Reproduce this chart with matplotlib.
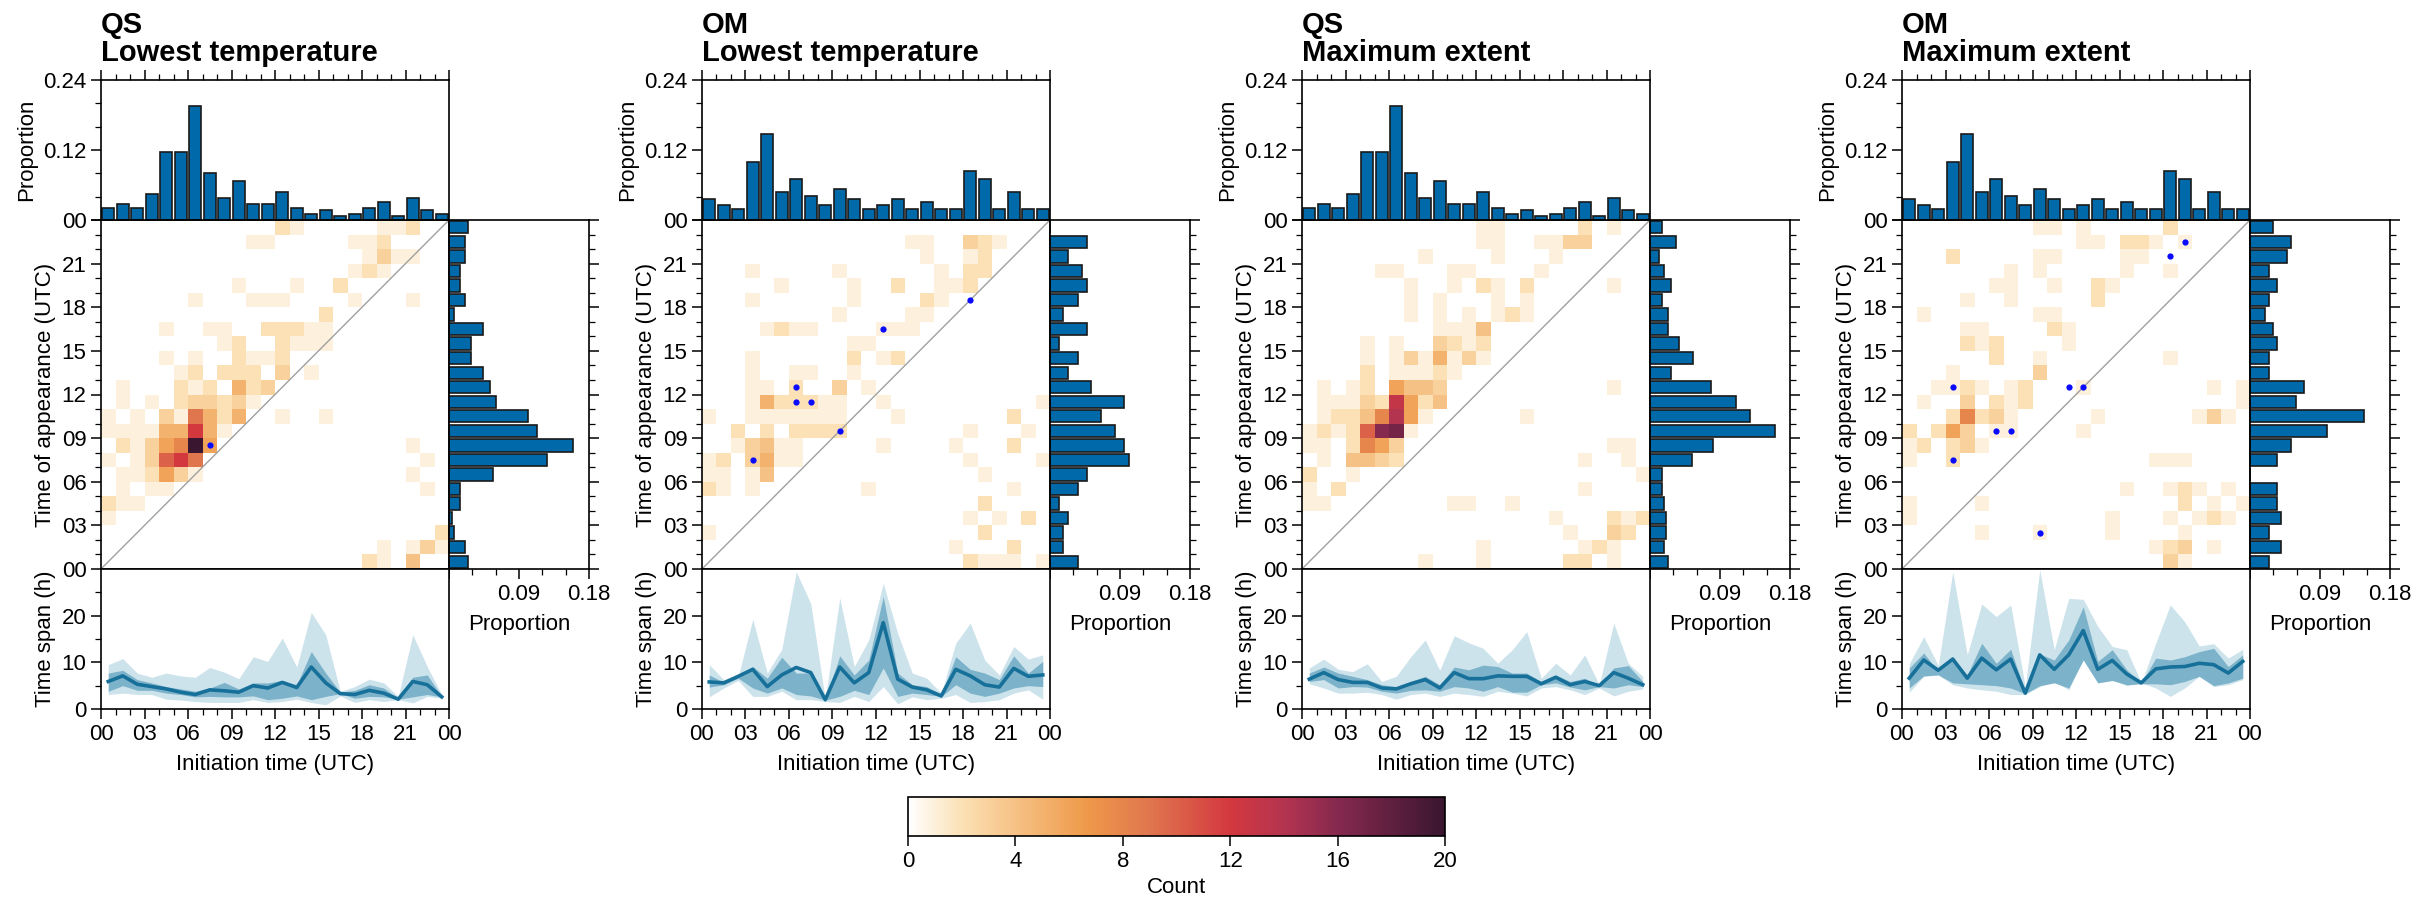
import numpy as np
import matplotlib.pyplot as plt
from matplotlib.colors import LinearSegmentedColormap
from matplotlib.ticker import MultipleLocator, FixedLocator

plt.rcParams['font.family'] = ['Liberation Sans', 'DejaVu Sans']
plt.rcParams['font.size'] = 16
plt.rcParams['axes.linewidth'] = 1.2
for ax_name in ['xtick', 'ytick']:
    plt.rcParams[ax_name + '.direction'] = 'out'
    plt.rcParams[ax_name + '.major.size'] = 7
    plt.rcParams[ax_name + '.minor.size'] = 4
    plt.rcParams[ax_name + '.major.width'] = 1.1
    plt.rcParams[ax_name + '.minor.width'] = 0.9
    plt.rcParams[ax_name + '.labelsize'] = 16

# ---------------- data ----------------
hours = np.arange(24)
hour_tick_labels = ['00', '03', '06', '09', '12', '15', '18', '21', '00']

titles = ['QS\nLowest temperature', 'OM\nLowest temperature',
          'QS\nMaximum extent', 'OM\nMaximum extent']

# proportion of initiation time (top histograms)
qs_init_prop = [0.020, 0.028, 0.020, 0.044, 0.116, 0.116, 0.196, 0.081, 0.037, 0.067,
                0.028, 0.028, 0.048, 0.020, 0.011, 0.018, 0.007, 0.011, 0.020, 0.031,
                0.007, 0.037, 0.018, 0.011]
om_init_prop = [0.036, 0.025, 0.019, 0.100, 0.147, 0.048, 0.071, 0.041, 0.025, 0.053,
                0.036, 0.019, 0.025, 0.036, 0.019, 0.031, 0.019, 0.019, 0.084, 0.071,
                0.019, 0.048, 0.019, 0.019]

# proportion of appearance time (right histograms), hour 00 -> 23
qs_low_appear = [0.025, 0.021, 0.007, 0.004, 0.014, 0.014, 0.057, 0.126, 0.160, 0.113,
                 0.101, 0.060, 0.053, 0.044, 0.028, 0.028, 0.044, 0.007, 0.021, 0.014,
                 0.014, 0.021, 0.021, 0.025]
om_low_appear = [0.036, 0.017, 0.017, 0.023, 0.011, 0.036, 0.047, 0.101, 0.095, 0.083,
                 0.065, 0.095, 0.053, 0.023, 0.036, 0.011, 0.047, 0.017, 0.036, 0.047,
                 0.041, 0.023, 0.047, 0.0]
qs_ext_appear = [0.023, 0.018, 0.020, 0.020, 0.018, 0.015, 0.015, 0.054, 0.081, 0.161,
                 0.128, 0.111, 0.079, 0.027, 0.055, 0.037, 0.023, 0.023, 0.015, 0.027,
                 0.018, 0.011, 0.034, 0.015]
om_ext_appear = [0.024, 0.040, 0.024, 0.040, 0.035, 0.035, 0.0, 0.035, 0.053, 0.099,
                 0.146, 0.059, 0.070, 0.024, 0.024, 0.035, 0.030, 0.019, 0.024, 0.035,
                 0.024, 0.048, 0.053, 0.030]

# joint counts: (initiation hour, appearance hour, count)
qs_low_cells = [
    (12, 23, 2), (13, 23, 1), (19, 23, 1), (20, 23, 1), (21, 23, 2),
    (10, 22, 1), (11, 22, 1), (17, 22, 1), (18, 22, 1), (19, 22, 2),
    (18, 21, 1), (19, 21, 3), (20, 21, 1), (21, 21, 1),
    (17, 20, 1), (18, 20, 2), (19, 20, 1),
    (9, 19, 1), (13, 19, 1), (16, 19, 2),
    (6, 18, 1), (10, 18, 1), (11, 18, 1), (12, 18, 1), (17, 18, 1), (21, 18, 1),
    (15, 17, 2),
    (4, 16, 1), (7, 16, 1), (8, 16, 1), (11, 16, 2), (12, 16, 2), (13, 16, 2), (14, 16, 1), (15, 16, 1),
    (8, 15, 1), (9, 15, 2), (12, 15, 2), (13, 15, 1), (14, 15, 1), (15, 15, 1),
    (4, 14, 1), (6, 14, 1), (9, 14, 2), (10, 14, 1), (11, 14, 1), (12, 14, 2),
    (5, 13, 1), (6, 13, 2), (8, 13, 2), (9, 13, 2), (10, 13, 2), (12, 13, 3), (14, 13, 1),
    (1, 12, 1), (5, 12, 2), (6, 12, 1), (7, 12, 2), (9, 12, 5), (10, 12, 2), (11, 12, 3),
    (1, 11, 1), (3, 11, 1), (5, 11, 2), (6, 11, 3), (7, 11, 3), (8, 11, 2), (9, 11, 3), (10, 11, 1),
    (0, 10, 1), (2, 10, 1), (4, 10, 3), (5, 10, 1), (6, 10, 9), (7, 10, 5), (8, 10, 2), (9, 10, 5),
    (12, 10, 1), (15, 10, 1),
    (0, 9, 1), (1, 9, 1), (2, 9, 1), (3, 9, 1), (4, 9, 5), (5, 9, 5), (6, 9, 12), (7, 9, 5), (8, 9, 1),
    (1, 8, 2), (2, 8, 1), (3, 8, 3), (4, 8, 6), (5, 8, 8), (6, 8, 20), (7, 8, 6), (21, 8, 1),
    (0, 7, 1), (2, 7, 1), (3, 7, 3), (4, 7, 10), (5, 7, 12), (6, 7, 9), (22, 7, 1),
    (1, 6, 1), (2, 6, 1), (3, 6, 2), (4, 6, 6), (5, 6, 3), (6, 6, 1), (21, 6, 1),
    (1, 5, 1), (3, 5, 1), (4, 5, 1), (22, 5, 1),
    (0, 4, 2), (1, 4, 1), (2, 4, 1),
    (0, 3, 1),
    (23, 2, 2),
    (19, 1, 1), (21, 1, 1), (22, 1, 3), (23, 1, 1),
    (18, 0, 2), (19, 0, 1), (21, 0, 4),
]
om_low_cells = [
    (14, 22, 1), (15, 22, 1), (18, 22, 3), (19, 22, 2), (20, 22, 1),
    (15, 21, 1), (18, 21, 1), (19, 21, 2),
    (3, 20, 1), (9, 20, 1), (16, 20, 1), (18, 20, 2), (19, 20, 2),
    (5, 19, 1), (10, 19, 1), (13, 19, 2), (16, 19, 1), (17, 19, 1), (18, 19, 2),
    (3, 18, 1), (10, 18, 1), (15, 18, 2), (16, 18, 1),
    (9, 17, 1), (14, 17, 1), (15, 17, 1),
    (4, 16, 1), (5, 16, 2), (6, 16, 1), (7, 16, 1), (12, 16, 1), (13, 16, 1), (14, 16, 1),
    (10, 15, 1), (11, 15, 1),
    (3, 14, 1), (10, 14, 2), (12, 14, 1), (13, 14, 2),
    (3, 13, 1), (6, 13, 1), (7, 13, 1), (10, 13, 1),
    (3, 12, 1), (4, 12, 1), (6, 12, 2), (9, 12, 3), (11, 12, 1),
    (3, 11, 1), (4, 11, 5), (5, 11, 2), (6, 11, 2), (7, 11, 2), (8, 11, 1), (9, 11, 1), (12, 11, 1), (23, 11, 1),
    (0, 10, 1), (3, 10, 1), (4, 10, 1), (5, 10, 1), (6, 10, 1), (7, 10, 1), (8, 10, 1), (9, 10, 1),
    (13, 10, 1), (21, 10, 2),
    (2, 9, 2), (4, 9, 2), (6, 9, 2), (7, 9, 2), (8, 9, 2), (9, 9, 2), (18, 9, 1), (22, 9, 1),
    (2, 8, 1), (3, 8, 3), (4, 8, 4), (5, 8, 1), (6, 8, 1), (12, 8, 1), (17, 8, 1), (21, 8, 2),
    (0, 7, 1), (1, 7, 2), (3, 7, 3), (4, 7, 5), (5, 7, 1), (6, 7, 1), (18, 7, 1), (23, 7, 1),
    (0, 6, 1), (1, 6, 1), (3, 6, 1), (4, 6, 4), (19, 6, 1),
    (0, 5, 2), (1, 5, 1), (3, 5, 1), (11, 5, 1), (21, 5, 1),
    (19, 4, 2),
    (18, 3, 1), (20, 3, 1), (22, 3, 2),
    (0, 2, 1), (19, 2, 2),
    (17, 1, 1), (21, 1, 2),
    (18, 0, 2), (19, 0, 1), (20, 0, 1), (21, 0, 1), (23, 0, 1),
]
qs_ext_cells = [
    (12, 23, 1), (13, 23, 1), (19, 23, 2), (21, 23, 1),
    (12, 22, 1), (13, 22, 1), (16, 22, 1), (17, 22, 1), (18, 22, 3), (19, 22, 3),
    (8, 21, 1), (13, 21, 1), (17, 21, 1),
    (5, 20, 1), (6, 20, 1), (10, 20, 1), (11, 20, 1), (16, 20, 1),
    (7, 19, 1), (10, 19, 1), (12, 19, 2), (13, 19, 1), (15, 19, 2), (21, 19, 1),
    (7, 18, 1), (9, 18, 1), (13, 18, 1), (15, 18, 1),
    (7, 17, 1), (9, 17, 1), (11, 17, 1), (13, 17, 1), (14, 17, 2), (15, 17, 1),
    (9, 16, 1), (10, 16, 1), (11, 16, 1), (12, 16, 4),
    (4, 15, 1), (6, 15, 1), (9, 15, 3), (10, 15, 2), (11, 15, 1), (12, 15, 2),
    (4, 14, 1), (6, 14, 1), (7, 14, 3), (8, 14, 1), (9, 14, 5), (10, 14, 1), (11, 14, 3), (12, 14, 1),
    (4, 13, 2), (6, 13, 1), (7, 13, 1), (8, 13, 1), (9, 13, 2), (10, 13, 1),
    (1, 12, 1), (3, 12, 1), (4, 12, 2), (6, 12, 6), (7, 12, 4), (8, 12, 4), (9, 12, 3), (21, 12, 1),
    (1, 11, 1), (2, 11, 1), (3, 11, 1), (4, 11, 3), (5, 11, 2), (6, 11, 13), (7, 11, 6), (8, 11, 2), (9, 11, 4),
    (1, 10, 1), (2, 10, 2), (3, 10, 2), (4, 10, 4), (5, 10, 8), (6, 10, 14), (7, 10, 6), (8, 10, 1), (15, 10, 1),
    (0, 9, 1), (1, 9, 2), (2, 9, 1), (3, 9, 2), (4, 9, 10), (5, 9, 16), (6, 9, 17), (7, 9, 1),
    (0, 8, 1), (1, 8, 1), (3, 8, 2), (4, 8, 8), (5, 8, 6), (6, 8, 3), (21, 8, 1), (22, 8, 1),
    (1, 7, 1), (3, 7, 4), (4, 7, 4), (5, 7, 3), (6, 7, 2), (19, 7, 1), (22, 7, 1),
    (0, 6, 2), (3, 6, 1), (23, 6, 1),
    (0, 5, 1), (2, 5, 2), (19, 5, 1),
    (0, 4, 1), (1, 4, 1), (10, 4, 1), (11, 4, 1), (14, 4, 1),
    (17, 3, 1), (21, 3, 2), (22, 3, 1), (23, 3, 2),
    (18, 2, 1), (21, 2, 3), (22, 2, 2),
    (12, 1, 1), (19, 1, 1), (20, 1, 2), (21, 1, 1),
    (8, 0, 1), (12, 0, 1), (18, 0, 2), (19, 0, 2), (21, 0, 1),
]
om_ext_cells = [
    (9, 23, 1), (10, 23, 1), (12, 23, 1), (18, 23, 2),
    (12, 22, 1), (13, 22, 1), (15, 22, 2), (16, 22, 2), (17, 22, 1), (19, 22, 1),
    (3, 21, 2), (9, 21, 1), (10, 21, 1), (15, 21, 1), (16, 21, 1),
    (7, 20, 1), (9, 20, 1), (15, 20, 1), (18, 20, 1),
    (6, 19, 1), (7, 19, 1), (10, 19, 1), (13, 19, 2), (14, 19, 1),
    (4, 18, 1), (7, 18, 1), (13, 18, 2),
    (1, 17, 1), (9, 17, 1), (10, 17, 1),
    (4, 16, 1), (5, 16, 1), (10, 16, 2), (11, 16, 1),
    (4, 15, 2), (5, 15, 1), (6, 15, 2), (11, 15, 1),
    (6, 14, 2), (9, 14, 1), (18, 14, 1),
    (3, 13, 1), (9, 13, 3),
    (2, 12, 1), (3, 12, 1), (4, 12, 2), (5, 12, 1), (7, 12, 1), (8, 12, 2), (12, 12, 1), (21, 12, 1), (23, 12, 1),
    (1, 11, 1), (4, 11, 3), (6, 11, 2), (7, 11, 1), (8, 11, 2), (23, 11, 1),
    (3, 10, 2), (4, 10, 8), (5, 10, 2), (6, 10, 3), (7, 10, 1), (13, 10, 1), (20, 10, 1), (21, 10, 3), (22, 10, 1),
    (0, 9, 2), (2, 9, 2), (3, 9, 6), (4, 9, 3), (6, 9, 1), (7, 9, 1), (12, 9, 1),
    (0, 8, 1), (1, 8, 2), (3, 8, 2), (4, 8, 3), (5, 8, 1),
    (0, 7, 1), (3, 7, 2), (17, 7, 1), (18, 7, 1), (19, 7, 1),
    (15, 5, 1), (18, 5, 1), (19, 5, 2), (20, 5, 1), (22, 5, 1),
    (0, 4, 1), (5, 4, 1), (19, 4, 2), (21, 4, 1), (23, 4, 1),
    (0, 3, 1), (14, 3, 1), (18, 3, 1), (20, 3, 1), (21, 3, 2), (22, 3, 1),
    (5, 2, 1), (9, 2, 1), (14, 2, 1), (19, 2, 1),
    (17, 1, 1), (18, 1, 2), (19, 1, 3), (21, 1, 1),
    (18, 0, 3), (19, 0, 1),
]

# highlighted events (initiation hour, appearance hour)
qs_low_dots_x = [7.5]
qs_low_dots_y = [8.5]
om_low_dots_x = [18.5, 12.5, 6.5, 6.5, 7.5, 9.5, 3.5]
om_low_dots_y = [18.5, 16.5, 12.5, 11.5, 11.5, 9.5, 7.5]
qs_ext_dots_x = []
qs_ext_dots_y = []
om_ext_dots_x = [19.5, 18.5, 3.5, 11.5, 12.5, 6.5, 7.5, 3.5, 9.5]
om_ext_dots_y = [22.5, 21.5, 12.5, 12.5, 12.5, 9.5, 9.5, 7.5, 2.5]

# time span (h) by initiation hour: median, inner range, outer range
qs_low_med = [5.9, 7.1, 5.3, 4.8, 4.3, 3.6, 3.1, 4.1, 3.9, 3.6, 5.0, 4.5,
              5.7, 4.6, 9.0, 5.6, 3.3, 3.1, 4.0, 3.4, 2.1, 5.9, 5.2, 2.6]
qs_low_in_lo = [3.8, 5.0, 4.0, 4.0, 3.4, 3.1, 2.6, 2.7, 2.6, 2.6, 2.8, 2.0,
                2.3, 2.8, 2.0, 2.7, 3.3, 2.3, 2.7, 2.6, 2.1, 2.6, 3.1, 2.6]
qs_low_in_hi = [7.7, 8.3, 6.3, 5.6, 4.8, 4.3, 3.8, 4.5, 5.7, 4.3, 5.6, 5.6,
                6.1, 5.2, 12.3, 7.7, 3.6, 4.0, 5.2, 4.5, 2.3, 6.8, 7.3, 2.7]
qs_low_out_lo = [3.1, 3.4, 3.1, 3.1, 2.1, 1.9, 1.6, 1.4, 1.4, 1.4, 2.0, 1.4,
                 1.6, 2.1, 1.4, 0.9, 2.8, 1.4, 2.0, 1.6, 2.0, 1.3, 2.7, 2.3]
qs_low_out_hi = [9.5, 10.8, 7.7, 6.8, 7.7, 7.1, 6.8, 8.9, 7.9, 6.5, 11.2, 10.2,
                 15.2, 9.0, 20.7, 15.9, 3.8, 4.8, 6.4, 5.6, 2.7, 15.9, 9.1, 3.1]

om_low_med = [5.8, 5.6, 7.0, 8.5, 4.8, 7.3, 8.9, 7.8, 2.0, 9.0, 5.6, 7.8,
              18.5, 6.4, 4.7, 4.1, 2.8, 8.5, 7.1, 5.2, 4.7, 8.7, 7.0, 7.3]
om_low_in_lo = [4.7, 5.2, 6.6, 4.5, 3.4, 4.5, 3.1, 2.8, 1.9, 2.7, 4.0, 3.1,
                8.8, 2.7, 3.4, 3.1, 2.7, 5.2, 3.4, 2.7, 3.4, 4.5, 5.0, 4.8]
om_low_in_hi = [7.3, 5.7, 7.0, 9.1, 6.6, 11.1, 7.7, 7.7, 2.1, 11.4, 7.3, 10.5,
                24.1, 7.7, 5.2, 4.8, 3.1, 11.2, 8.5, 7.7, 6.3, 11.4, 7.7, 10.2]
om_low_out_lo = [2.6, 4.5, 6.1, 2.7, 2.7, 3.8, 2.0, 2.0, 1.6, 1.4, 2.7, 1.6,
                 4.8, 1.1, 2.6, 2.0, 2.3, 3.1, 1.4, 1.6, 2.0, 3.4, 4.1, 2.1]
om_low_out_hi = [9.5, 6.3, 7.0, 19.2, 7.7, 12.8, 29.4, 22.6, 2.1, 23.8, 9.1, 14.8,
                 26.9, 16.2, 7.7, 6.6, 3.4, 14.1, 18.4, 10.5, 7.3, 13.4, 10.7, 11.6]

qs_ext_med = [6.4, 7.8, 6.3, 5.7, 5.7, 4.5, 4.3, 5.4, 6.3, 4.5, 7.8, 6.5,
              6.5, 7.1, 7.0, 7.0, 5.4, 6.8, 5.2, 5.9, 5.0, 7.8, 6.6, 5.2]
qs_ext_in_lo = [5.9, 6.3, 4.5, 4.8, 4.7, 3.8, 3.4, 4.0, 4.1, 3.8, 4.8, 4.5,
                3.8, 4.8, 3.6, 3.6, 5.2, 5.6, 4.7, 4.1, 4.8, 4.5, 5.2, 4.8]
qs_ext_in_hi = [7.7, 9.0, 7.7, 7.0, 6.3, 5.2, 4.8, 5.9, 7.0, 5.2, 9.0, 8.4,
                9.4, 9.1, 7.7, 7.7, 5.9, 7.3, 5.9, 6.6, 5.0, 8.8, 9.3, 5.9]
qs_ext_out_lo = [5.4, 4.5, 3.4, 3.4, 3.6, 3.1, 2.1, 3.1, 3.4, 2.7, 3.4, 3.1,
                 2.7, 3.8, 3.4, 2.8, 4.5, 4.8, 4.1, 3.1, 4.5, 2.8, 3.8, 4.3]
qs_ext_out_hi = [8.8, 10.7, 8.5, 8.0, 9.7, 5.9, 7.0, 11.2, 14.8, 8.3, 15.7, 14.2,
                 13.0, 9.8, 12.7, 16.6, 6.6, 9.8, 7.3, 11.6, 5.2, 18.4, 9.8, 7.0]

om_ext_med = [6.6, 10.5, 8.3, 10.7, 6.6, 10.9, 8.4, 10.7, 3.4, 11.6, 8.5, 11.6,
              16.8, 8.5, 10.4, 7.5, 5.6, 8.6, 9.0, 9.1, 9.8, 9.5, 7.7, 10.2]
om_ext_in_lo = [4.5, 7.1, 7.3, 5.6, 5.4, 5.2, 5.0, 4.5, 3.3, 5.0, 5.6, 4.5,
                10.5, 5.6, 6.1, 5.2, 5.4, 5.4, 5.2, 5.9, 7.0, 5.0, 5.6, 6.6]
om_ext_in_hi = [8.8, 12.0, 8.0, 10.7, 7.3, 14.1, 9.8, 12.8, 3.6, 11.8, 10.5, 14.8,
                21.9, 10.2, 12.7, 8.4, 5.6, 10.9, 10.5, 11.2, 12.3, 13.0, 9.1, 11.6]
om_ext_out_lo = [3.6, 7.0, 7.3, 5.2, 4.5, 4.1, 3.8, 3.1, 3.1, 4.8, 5.9, 4.1,
                 10.9, 5.6, 6.3, 5.0, 5.6, 4.5, 2.7, 4.5, 7.0, 4.8, 5.2, 6.3]
om_ext_out_hi = [9.7, 15.5, 9.3, 29.4, 11.6, 22.5, 19.8, 22.3, 4.8, 29.8, 12.7, 23.7,
                 23.5, 17.7, 13.4, 12.7, 5.6, 14.1, 22.3, 18.7, 13.5, 14.0, 10.9, 12.8]

panels = [
    (titles[0], qs_low_cells, qs_low_dots_x, qs_low_dots_y, qs_init_prop, qs_low_appear,
     qs_low_med, qs_low_in_lo, qs_low_in_hi, qs_low_out_lo, qs_low_out_hi),
    (titles[1], om_low_cells, om_low_dots_x, om_low_dots_y, om_init_prop, om_low_appear,
     om_low_med, om_low_in_lo, om_low_in_hi, om_low_out_lo, om_low_out_hi),
    (titles[2], qs_ext_cells, qs_ext_dots_x, qs_ext_dots_y, qs_init_prop, qs_ext_appear,
     qs_ext_med, qs_ext_in_lo, qs_ext_in_hi, qs_ext_out_lo, qs_ext_out_hi),
    (titles[3], om_ext_cells, om_ext_dots_x, om_ext_dots_y, om_init_prop, om_ext_appear,
     om_ext_med, om_ext_in_lo, om_ext_in_hi, om_ext_out_lo, om_ext_out_hi),
]

# ---------------- style ----------------
cmap = LinearSegmentedColormap.from_list('fire', [
    (0.0, '#ffffff'), (0.1, '#fbe0b4'), (0.2, '#f6c185'), (0.33, '#ef9a4a'),
    (0.45, '#e0764e'), (0.6, '#d3383f'), (0.7, '#b4344f'), (0.8, '#86294f'),
    (1.0, '#3a1630')])
bar_color = '#0069aa'
line_color = '#17709a'
inner_color = '#7db3ca'
outer_color = '#cde3ec'

FW, FH = 2433, 898
fig = plt.figure(figsize=(FW / 100, FH / 100), dpi=100)


def px_axes(x0, y0, w, h):
    return fig.add_axes([x0 / FW, 1 - (y0 + h) / FH, w / FW, h / FH])


lefts = [101, 702, 1302, 1902]
W, H, M = 348, 349, 140
TOP = 220
edges = np.arange(25)
mesh = None

for left, (title, cells, dx, dy, init_prop, appear_prop,
           med, in_lo, in_hi, out_lo, out_hi) in zip(lefts, panels):
    ax_main = px_axes(left, TOP, W, H)
    ax_top = px_axes(left, TOP - M, W, M)
    ax_right = px_axes(left + W, TOP, M, H)
    ax_bot = px_axes(left, TOP + H, W, M)

    grid = np.zeros((24, 24))
    for c, r, n in cells:
        grid[r, c] = n
    mesh = ax_main.pcolormesh(edges, edges, grid, cmap=cmap, vmin=0, vmax=20)
    ax_main.plot([0, 24], [0, 24], color='#a0a0a0', lw=1.0)
    ax_main.plot(dx, dy, 'o', color='#0a0aff', ms=4.5, mec='none')
    ax_main.set_xlim(0, 24)
    ax_main.set_ylim(0, 24)
    ax_main.set_yticks(range(0, 25, 3))
    ax_main.set_yticklabels(hour_tick_labels)
    ax_main.yaxis.set_minor_locator(MultipleLocator(1))
    ax_main.tick_params(axis='x', which='both', bottom=False, labelbottom=False)
    ax_main.set_ylabel('Time of appearance (UTC)')

    ax_top.bar(hours + 0.5, init_prop, width=0.85, color=bar_color,
               edgecolor='#1a1a1a', linewidth=1.2)
    ax_top.set_xlim(0, 24)
    ax_top.set_ylim(0, 0.24)
    ax_top.set_yticks([0, 0.12, 0.24])
    ax_top.set_yticklabels(['', '0.12', '0.24'])
    ax_top.yaxis.set_minor_locator(MultipleLocator(0.04))
    ax_top.set_xticks(range(0, 25, 3))
    ax_top.xaxis.set_minor_locator(MultipleLocator(1))
    ax_top.tick_params(axis='x', which='both', bottom=False, top=True,
                       labelbottom=False, labeltop=False)
    ax_top.set_ylabel('Proportion')
    ax_top.set_title(title, loc='left', fontweight='bold', fontsize=21,
                     pad=14, linespacing=1.0)

    ax_right.barh(hours + 0.5, appear_prop, height=0.85, color=bar_color,
                  edgecolor='#1a1a1a', linewidth=1.2)
    ax_right.set_ylim(0, 24)
    ax_right.set_xlim(0, 0.18)
    ax_right.set_xticks([0, 0.09, 0.18])
    ax_right.set_xticklabels(['', '0.09', '0.18'])
    ax_right.xaxis.set_minor_locator(MultipleLocator(0.03))
    ax_right.set_yticks(range(0, 25, 3))
    ax_right.yaxis.set_minor_locator(MultipleLocator(1))
    ax_right.tick_params(axis='y', which='both', left=False, right=True,
                         labelleft=False, labelright=False)
    ax_right.set_xlabel('Proportion', labelpad=7)

    ax_bot.fill_between(hours + 0.5, out_lo, out_hi, color=outer_color, lw=0)
    ax_bot.fill_between(hours + 0.5, in_lo, in_hi, color=inner_color, lw=0)
    ax_bot.plot(hours + 0.5, med, color=line_color, lw=2.6)
    ax_bot.set_xlim(0, 24)
    ax_bot.set_ylim(0, 30)
    ax_bot.set_xticks(range(0, 25, 3))
    ax_bot.set_xticklabels(hour_tick_labels)
    ax_bot.xaxis.set_minor_locator(MultipleLocator(1))
    ax_bot.set_yticks([0, 10, 20])
    ax_bot.yaxis.set_minor_locator(FixedLocator([5, 15, 25]))
    ax_bot.tick_params(axis='x', which='both', top=False)
    ax_bot.set_xlabel('Initiation time (UTC)', labelpad=7)
    ax_bot.set_ylabel('Time span (h)')

cax = px_axes(908, 797, 537, 39)
cb = fig.colorbar(mesh, cax=cax, orientation='horizontal', ticks=range(0, 21, 4))
cb.outline.set_linewidth(1.2)
cax.set_xlabel('Count')

fig.savefig('out.png', dpi=100)
